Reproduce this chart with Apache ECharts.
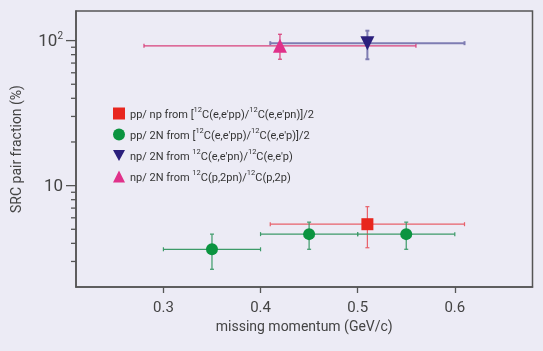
<!DOCTYPE html>
<html>
<head>
<meta charset="utf-8">
<script src="https://cdn.jsdelivr.net/npm/echarts@6/dist/echarts.min.js"></script>
<style>
html,body{margin:0;padding:0;background:#ecebf5;}
#main{width:543px;height:351px;}
</style>
</head>
<body>
<div id="main"></div>
<script>
// point: [x, y, xLow, xHigh, yLow, yHigh]
var ppNp = [[0.51, 5.42, 0.41, 0.61, 3.73, 7.16]];
var pp2N = [
    [0.35, 3.64, 0.30, 0.40, 2.65, 4.63],
    [0.45, 4.63, 0.40, 0.50, 3.64, 5.60],
    [0.55, 4.63, 0.50, 0.60, 3.64, 5.60]
];
var np2N_e = [[0.51, 96, 0.41, 0.61, 74.4, 117]];
var np2N_p = [[0.42, 92, 0.28, 0.56, 74.4, 110.6]];

var xRange = [0.21, 0.68];
var yRange = [2, 160];
var xTicks = [0.3, 0.4, 0.5, 0.6];
var yMajor = [10, 100];
var yMinor = [3, 4, 5, 6, 7, 8, 9, 20, 30, 40, 50, 60, 70, 80, 90];

var fontMain = 'Roboto, sans-serif';

var legendText = {
    'pp/np': "{t|pp/ np from [}{s|12}{t|C(e,e'pp)/}{s|12}{t|C(e,e'pn)]/2}",
    'pp/2N': "{t|pp/ 2N from [}{s|12}{t|C(e,e'pp)/}{s|12}{t|C(e,e'p)]/2}",
    'np/2N e': "{t|np/ 2N from }{s|12}{t|C(e,e'pn)/}{s|12}{t|C(e,e'p)}",
    'np/2N p': "{t|np/ 2N from }{s|12}{t|C(p,2pn)/}{s|12}{t|C(p,2p)}"
};

function errorSeries(name, data, color, width){
    return {
        name: name + ' err',
        type: 'custom',
        z: 2,
        encode: {x: 0, y: 1},
        data: data,
        renderItem: function(params, api){
            var x = api.value(0), y = api.value(1);
            var l = api.coord([api.value(2), y]);
            var r = api.coord([api.value(3), y]);
            var b = api.coord([x, api.value(4)]);
            var t = api.coord([x, api.value(5)]);
            var c = 2;
            var st = {stroke: color, lineWidth: width};
            return {
                type: 'group',
                children: [
                    {type: 'line', shape: {x1: l[0], y1: l[1], x2: r[0], y2: r[1]}, style: st},
                    {type: 'line', shape: {x1: l[0], y1: l[1] - c, x2: l[0], y2: l[1] + c}, style: st},
                    {type: 'line', shape: {x1: r[0], y1: r[1] - c, x2: r[0], y2: r[1] + c}, style: st},
                    {type: 'line', shape: {x1: t[0], y1: t[1], x2: b[0], y2: b[1]}, style: st},
                    {type: 'line', shape: {x1: t[0] - c, y1: t[1], x2: t[0] + c, y2: t[1]}, style: st},
                    {type: 'line', shape: {x1: b[0] - c, y1: b[1], x2: b[0] + c, y2: b[1]}, style: st}
                ]
            };
        }
    };
}

function pointSeries(name, data, color, symbol, size){
    return {
        name: name,
        type: 'scatter',
        z: 3,
        symbol: symbol,
        symbolSize: size,
        itemStyle: {color: color, opacity: 1},
        data: data.map(function(d){ return [d[0], d[1]]; })
    };
}

// log-axis ticks (long at decades, short at 3..9 and 20..90), placed by the y scale
function tickSeries(values, len){
    return {
        name: 'ticks ' + len,
        type: 'custom',
        clip: false,
        z: 10,
        encode: {x: 0, y: 1},
        data: values.map(function(v){ return [xRange[0], v]; }),
        renderItem: function(params, api){
            var p = api.coord([api.value(0), api.value(1)]);
            return {
                type: 'line',
                shape: {x1: p[0] - len, y1: p[1], x2: p[0], y2: p[1]},
                style: {stroke: '#555', lineWidth: 1.3}
            };
        }
    };
}

var option = {
    backgroundColor: '#ecebf5',
    animation: false,
    grid: {
        left: 76, right: 10.5, top: 11, bottom: 64,
        show: true, borderColor: '#555', borderWidth: 1.5,
        backgroundColor: '#ecebf5'
    },
    legend: {
        orient: 'vertical',
        left: 108, top: 101,
        itemWidth: 12, itemHeight: 12, itemGap: 6,
        data: ['pp/np', 'pp/2N', 'np/2N e', 'np/2N p'],
        formatter: function(name){ return legendText[name]; },
        textStyle: {
            rich: {
                t: {fontFamily: fontMain, fontSize: 11, color: '#333', lineHeight: 15, verticalAlign: 'bottom'},
                s: {fontFamily: fontMain, fontSize: 7.5, color: '#333', lineHeight: 15, verticalAlign: 'top'}
            }
        }
    },
    xAxis: {
        type: 'value',
        min: xRange[0], max: xRange[1],
        name: 'missing momentum (GeV/c)',
        nameLocation: 'middle',
        nameGap: 32,
        nameTextStyle: {fontFamily: fontMain, fontSize: 14, color: '#444'},
        axisLine: {lineStyle: {color: '#555', width: 1.5}},
        axisTick: {length: 6, customValues: xTicks, lineStyle: {color: '#555', width: 1.3}},
        axisLabel: {customValues: xTicks, fontFamily: 'Roboto, sans-serif', fontSize: 15, color: '#444', margin: 14},
        splitLine: {show: false}
    },
    yAxis: {
        type: 'log',
        min: yRange[0], max: yRange[1],
        name: 'SRC pair fraction (%)',
        nameLocation: 'middle',
        nameGap: 52,
        nameTextStyle: {fontFamily: fontMain, fontSize: 14, color: '#444'},
        axisLine: {show: true, lineStyle: {color: '#555', width: 1.5}},
        axisTick: {show: false},
        axisLabel: {
            margin: 13,
            showMinLabel: false,
            showMaxLabel: false,
            formatter: function(v){
                if (Math.abs(v - 100) < 1e-6) return '{b|10}{s|2}';
                if (Math.abs(v - 10) < 1e-6) return '{b|10}';
                return '';
            },
            rich: {
                b: {fontFamily: 'Roboto, sans-serif', fontSize: 17, color: '#444', lineHeight: 19, verticalAlign: 'bottom'},
                s: {fontFamily: 'Roboto, sans-serif', fontSize: 10, color: '#444', lineHeight: 19, verticalAlign: 'top'}
            }
        },
        splitLine: {show: false}
    },
    series: [
        tickSeries(yMajor, 10),
        tickSeries(yMinor, 5),
        errorSeries('pp/np', ppNp, '#e8606a', 1.2),
        errorSeries('pp/2N', pp2N, '#3c9a68', 1.2),
        errorSeries('np/2N e', np2N_e, '#7e7cb2', 2),
        errorSeries('np/2N p', np2N_p, '#d8407a', 1.2),
        pointSeries('pp/np', ppNp, '#e8261e', 'rect', 12),
        pointSeries('pp/2N', pp2N, '#0b9440', 'circle', 12),
        pointSeries('np/2N e', np2N_e, '#2b1f7c', 'path://M0,0L10,0L5,9Z', 14),
        pointSeries('np/2N p', np2N_p, '#e0318a', 'triangle', 14)
    ]
};

var chart = echarts.init(document.getElementById('main'));
chart.setOption(option);
</script>
</body>
</html>
